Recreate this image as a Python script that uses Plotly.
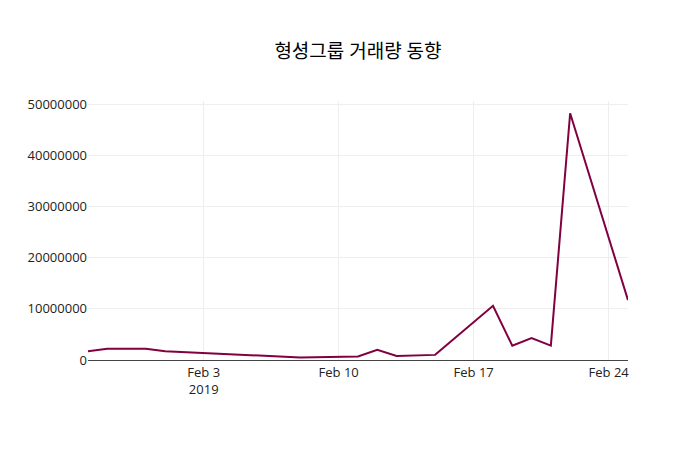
import plotly.graph_objects as go

dates = ["2019-01-28","2019-01-29","2019-01-30","2019-01-31","2019-02-01",
         "2019-02-07","2019-02-08","2019-02-11","2019-02-12","2019-02-13",
         "2019-02-14","2019-02-15","2019-02-18","2019-02-19","2019-02-20",
         "2019-02-21","2019-02-22","2019-02-25"]
volume = [1700000,2200000,2200000,2200000,1700000,
          700000,500000,700000,2000000,800000,
          900000,1000000,10600000,2800000,4300000,
          2800000,48200000,11700000]

fig = go.Figure(go.Scatter(x=dates, y=volume, mode="lines",
                           line=dict(color="rgb(128,0,64)", width=2)))
fig.update_layout(
    title=dict(text="형셩그룹 거래량 동향", x=0.5, y=0.904, yref="container",
               yanchor="middle", font=dict(size=19, color="black")),
    width=700, height=450, plot_bgcolor="white", paper_bgcolor="white",
    margin=dict(l=80, r=80, t=93, b=98),
    font=dict(family="Open Sans, Noto Sans CJK KR", size=13, color="#222"),
    xaxis=dict(range=["2019-01-28","2019-02-25"], showgrid=True, gridcolor="#eee",
               showline=True, linecolor="#444", ticks="", dtick=7*86400000,
               tick0="2019-02-03", automargin=False),
    yaxis=dict(range=[0, 50600000], showgrid=True, gridcolor="#eee",
               zeroline=False, tickformat="d", dtick=10000000, automargin=False),
)
fig.write_html("out.html")
